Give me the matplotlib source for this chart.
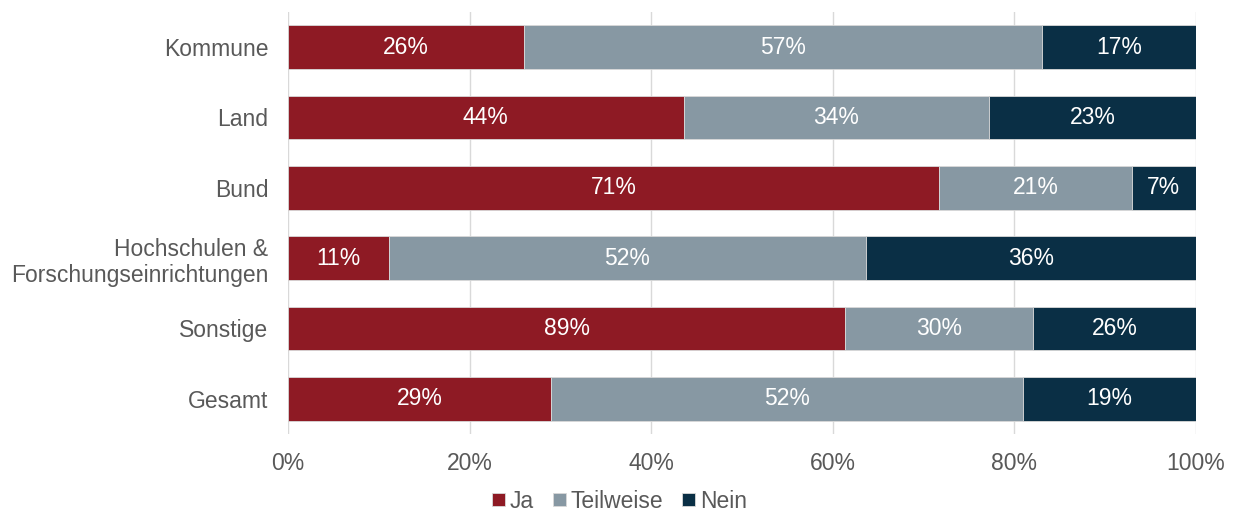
import numpy as np
import matplotlib.pyplot as plt

# survey answers per group (percent as labelled)
categories = ["Kommune", "Land", "Bund", "Hochschulen &\nForschungseinrichtungen", "Sonstige", "Gesamt"]
ja = [26, 44, 71, 11, 89, 29]
teilweise = [57, 34, 21, 52, 30, 52]
nein = [17, 23, 7, 36, 26, 19]

series = [("Ja", ja, "#8E1A24"), ("Teilweise", teilweise, "#8798A3"), ("Nein", nein, "#0A2F45")]

plt.rcParams["font.family"] = ["Liberation Sans", "DejaVu Sans"]
text_col = "#595959"
fs = 16.5

fig = plt.figure(figsize=(12.39, 5.16), dpi=100)
ax = fig.add_axes([0.2324, 0.159, 0.7329, 0.818])

# bar widths are each answer's share of the row total
totals = np.array(ja) + np.array(teilweise) + np.array(nein)
y = np.arange(len(categories))
left = np.zeros(len(categories))
for name, vals, col in series:
    vals = np.array(vals)
    share = vals / totals * 100
    bars = ax.barh(y, share, left=left, height=0.62, color=col, label=name,
                   edgecolor="#d9d9d9", linewidth=0.6, zorder=3)
    for b, v in zip(bars, vals):
        ax.text(b.get_x() + b.get_width() / 2, b.get_y() + b.get_height() / 2,
                f"{v}%", ha="center", va="center", color="white", fontsize=fs, zorder=4)
    left += share

ax.set_xlim(0, 100)
ax.set_ylim(len(categories) - 0.5, -0.5)
ax.set_yticks(y)
ax.set_yticklabels(categories, fontsize=fs, color=text_col)
ax.set_xticks(np.arange(0, 101, 20))
ax.set_xticklabels([f"{t}%" for t in range(0, 101, 20)], fontsize=fs, color=text_col)
ax.tick_params(length=0, pad=13)
ax.tick_params(axis="y", pad=14)
ax.grid(axis="x", color="#d9d9d9", linewidth=1, zorder=0)
for s in ax.spines.values():
    s.set_visible(False)

fig.legend(loc="lower center", bbox_to_anchor=(0.5, -0.02), ncol=3, frameon=False,
           fontsize=fs, labelcolor=text_col, handlelength=0.55, handleheight=0.55,
           handletextpad=0.2, columnspacing=0.85, borderaxespad=0.2)

fig.savefig("out.png", dpi=100)
